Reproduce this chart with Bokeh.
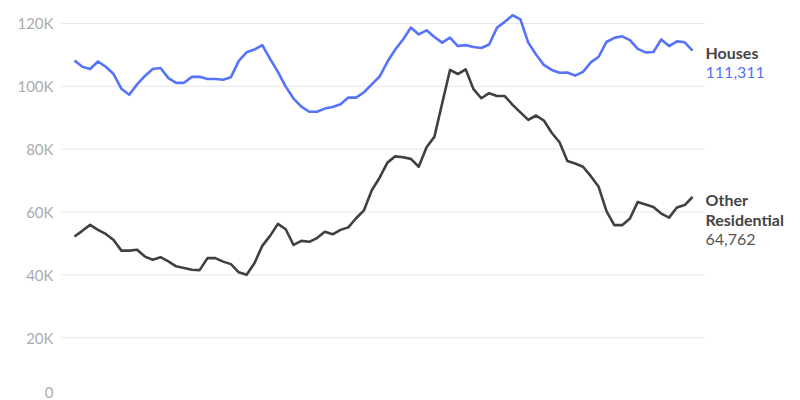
from bokeh.plotting import figure
from bokeh.models import ColumnDataSource, FixedTicker, Range1d
from bokeh.core.properties import value
from bokeh.embed import file_html
from bokeh.resources import INLINE

# ---- data ----
houses = [108.2, 106.2, 105.5, 107.9, 106.2, 103.9, 99.2, 97.3, 100.6, 103.3,
          105.5, 105.8, 102.6, 101.1, 101.1, 103.0, 103.0, 102.3, 102.3, 102.1,
          102.9, 108.1, 110.8, 111.7, 113.1, 108.7, 104.6, 99.9, 96.1, 93.5,
          91.9, 91.9, 92.9, 93.4, 94.3, 96.4, 96.4, 98.1, 100.6, 103.1,
          107.8, 111.7, 114.9, 118.7, 116.5, 117.8, 115.7, 113.9, 115.5, 112.8,
          113.1, 112.5, 112.2, 113.3, 118.6, 120.5, 122.6, 121.3, 113.9, 110.1,
          106.8, 105.2, 104.3, 104.4, 103.4, 104.6, 107.6, 109.4, 114.1, 115.4,
          115.9, 114.7, 111.9, 110.8, 110.9, 114.9, 112.8, 114.3, 114.0, 111.311]
other_res = [52.2, 54.0, 55.9, 54.3, 53.0, 51.1, 47.7, 47.7, 48.0, 45.8,
             44.8, 45.6, 44.3, 42.7, 42.2, 41.6, 41.5, 45.3, 45.3, 44.2,
             43.4, 40.8, 40.0, 43.7, 49.2, 52.4, 56.2, 54.5, 49.5, 50.8,
             50.5, 51.7, 53.7, 52.9, 54.3, 55.1, 58.0, 60.5, 66.9, 70.9,
             75.7, 77.7, 77.4, 76.9, 74.4, 80.6, 83.9, 94.6, 105.2, 103.9,
             105.4, 99.1, 96.2, 97.8, 96.9, 96.9, 94.1, 91.7, 89.3, 90.7,
             89.1, 85.2, 82.2, 76.2, 75.4, 74.4, 71.4, 68.0, 60.3, 55.8,
             55.8, 57.9, 63.2, 62.4, 61.6, 59.5, 58.2, 61.4, 62.2, 64.762]
months = list(range(len(houses)))
series_names = ["Houses", "Other", "Residential"]
last_values = ["111,311", "64,762"]
tick_values = [0, 20000, 40000, 60000, 80000, 100000, 120000]
tick_labels = ["0", "20K", "40K", "60K", "80K", "100K", "120K"]

BLUE = "#5573fb"
DARK = "#404040"
FONT = "Lato"

X_START = -1.66      # left edge of plotting area (in month units)
GRID_END = 80.53     # where the horizontal gridlines stop
X_END = 92.8         # right edge incl. label space

src = ColumnDataSource(dict(
    x=months,
    houses=[v * 1000 for v in houses],
    other=[v * 1000 for v in other_res],
))

p = figure(width=800, height=400, output_backend="svg", toolbar_location=None,
           x_range=Range1d(X_START, X_END), y_range=Range1d(0, 127300),
           min_border_left=61, min_border_right=0, min_border_top=0,
           min_border_bottom=0)
p.outline_line_color = None
p.background_fill_color = "white"
p.border_fill_color = "white"
p.xaxis.visible = False
p.xgrid.visible = False
p.ygrid.visible = False

# horizontal gridlines (stop before the label column)
p.segment(x0=[X_START] * len(tick_values), y0=tick_values,
          x1=[GRID_END] * len(tick_values), y1=tick_values,
          line_color="#e6e6e6", line_width=1)

ya = p.yaxis[0]
ya.ticker = FixedTicker(ticks=tick_values)
ya.major_label_overrides = {t: l for t, l in zip(tick_values, tick_labels)}
ya.axis_line_color = None
ya.major_tick_line_color = None
ya.minor_tick_line_color = None
ya.major_tick_out = 0
ya.major_tick_in = 0
ya.major_label_standoff = 8
ya.major_label_text_font = FONT
ya.major_label_text_font_size = "15px"
ya.major_label_text_color = "#ababab"

p.line("x", "houses", source=src, line_color=BLUE, line_width=2.6,
       line_join="round")
p.line("x", "other", source=src, line_color=DARK, line_width=2.6,
       line_join="round")

lx = months[-1]
hy = houses[-1] * 1000
oy = other_res[-1] * 1000
common = dict(text_font=value(FONT), text_font_size="16px", text_align="left",
              text_baseline="middle", x_offset=13)
p.text(x=[lx], y=[hy], text=[series_names[0]], text_color="#444444",
       text_font_style="bold", y_offset=2, **common)
p.text(x=[lx], y=[hy], text=[last_values[0]], text_color=BLUE,
       y_offset=22, **common)
p.text(x=[lx], y=[oy], text=[series_names[1]], text_color="#444444",
       text_font_style="bold", y_offset=2, **common)
p.text(x=[lx], y=[oy], text=[series_names[2]], text_color="#444444",
       text_font_style="bold", y_offset=22, **common)
p.text(x=[lx], y=[oy], text=[last_values[1]], text_color="#555555",
       y_offset=42, **common)

open("out.html", "w").write(file_html(p, INLINE))
